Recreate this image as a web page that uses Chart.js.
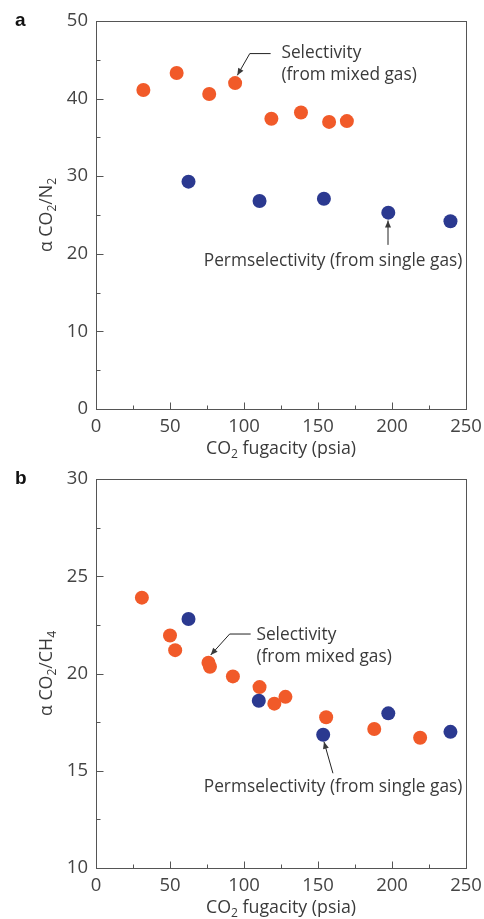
<!DOCTYPE html>
<html>
<head>
<meta charset="utf-8">
<script src="https://cdn.jsdelivr.net/npm/chart.js@4.4.1/dist/chart.umd.min.js"></script>
<style>
  body { margin: 0; background: #fff; }
  canvas { display: block; }
</style>
</head>
<body>
<canvas id="chartA" width="484" height="460"></canvas>
<canvas id="chartB" width="484" height="459"></canvas>
<script>
const FONT = '"Open Sans", sans-serif';
const ORANGE = '#f15a29';
const BLUE = '#2b3990';
const INK = '#3a3a3a';

// labelled ticks (the rest are unlabelled minor ticks)
const xTickLabels = [0, 50, 100, 150, 200, 250];
const yTickLabelsA = [0, 10, 20, 30, 40, 50];
const yTickLabelsB = [10, 15, 20, 25, 30];

// a: CO2/N2
const mixedFugacityA = [32, 54.5, 76.5, 94, 118.5, 138.5, 157.5, 169.5];
const mixedSelectivityA = [41.1, 43.3, 40.6, 42.0, 37.4, 38.2, 37.0, 37.1];
const singleFugacityA = [62.5, 110.5, 154, 197.5, 239.5];
const singlePermselA = [29.3, 26.8, 27.1, 25.3, 24.2];

// b: CO2/CH4
const mixedFugacityB = [31, 50, 53.5, 76, 77, 92.5, 110.5, 120.5, 128, 155.5, 188, 219];
const mixedSelectivityB = [23.9, 21.95, 21.2, 20.55, 20.35, 19.85, 19.3, 18.45, 18.8, 17.75, 17.15, 16.7];
const singleFugacityB = [62.5, 110, 153.5, 197.5, 239.5];
const singlePermselB = [22.8, 18.6, 16.85, 17.95, 17.0];

function points(xs, ys) {
  return xs.map((x, i) => ({ x, y: ys[i] }));
}

// text with subscripts: parts = [[text, isSub], ...]
function richWidth(ctx, parts, size) {
  let w = 0;
  for (const [t, sub] of parts) {
    ctx.font = `${sub ? size * 0.68 : size}px ${FONT}`;
    w += ctx.measureText(t).width;
  }
  return w;
}

function drawRich(ctx, parts, cx, cy, size) {
  let x = cx - richWidth(ctx, parts, size) / 2;
  ctx.textAlign = 'left';
  ctx.textBaseline = 'middle';
  for (const [t, sub] of parts) {
    ctx.font = `${sub ? size * 0.68 : size}px ${FONT}`;
    ctx.fillText(t, x, sub ? cy + size * 0.3 : cy);
    x += ctx.measureText(t).width;
  }
}

function arrowHead(ctx, x0, y0, x1, y1) {
  const ang = Math.atan2(y1 - y0, x1 - x0);
  const len = 7, half = 3;
  ctx.beginPath();
  ctx.moveTo(x1, y1);
  ctx.lineTo(x1 - len * Math.cos(ang) + half * Math.sin(ang), y1 - len * Math.sin(ang) - half * Math.cos(ang));
  ctx.lineTo(x1 - len * Math.cos(ang) - half * Math.sin(ang), y1 - len * Math.sin(ang) + half * Math.cos(ang));
  ctx.closePath();
  ctx.fill();
}

// frame, inward ticks, axis titles, panel letter and callouts
function decor(cfg) {
  return {
    id: 'decor',
    afterDraw(chart) {
      const { ctx, chartArea: a, scales: { x, y } } = chart;
      ctx.save();
      ctx.strokeStyle = '#555';
      ctx.lineWidth = 1;
      const L = Math.round(a.left) + 0.5, R = Math.round(a.right) + 0.5;
      const T = Math.round(a.top) + 0.5, B = Math.round(a.bottom) + 0.5;
      ctx.strokeRect(L, T, R - L, B - T);

      ctx.beginPath();
      x.ticks.forEach(t => {
        const px = Math.round(x.getPixelForValue(t.value)) + 0.5;
        const len = xTickLabels.includes(t.value) ? 7 : 4;
        ctx.moveTo(px, B);
        ctx.lineTo(px, B - len);
      });
      y.ticks.forEach(t => {
        const py = Math.round(y.getPixelForValue(t.value)) + 0.5;
        const len = cfg.yLabels.includes(t.value) ? 7 : 4;
        ctx.moveTo(L, py);
        ctx.lineTo(L + len, py);
      });
      ctx.stroke();

      ctx.fillStyle = INK;
      // x title
      drawRich(ctx, [['CO', false], ['2', true], [' fugacity (psia)', false]],
        (a.left + a.right) / 2, a.bottom + 40, 17.8);
      // y title
      ctx.save();
      ctx.translate(47, (a.top + a.bottom) / 2);
      ctx.rotate(-Math.PI / 2);
      drawRich(ctx, cfg.yTitle, 0, 0, 17.8);
      ctx.restore();

      // panel letter
      ctx.font = 'bold 19px "Liberation Sans", Arial, sans-serif';
      ctx.textAlign = 'left';
      ctx.textBaseline = 'alphabetic';
      ctx.fillStyle = '#111';
      ctx.fillText(cfg.letter, 15, a.top + 5);

      // callouts
      ctx.fillStyle = INK;
      ctx.strokeStyle = '#222';
      ctx.font = `17.3px ${FONT}`;
      cfg.notes.forEach(n => {
        const tx = x.getPixelForValue(n.at[0]);
        const ty = y.getPixelForValue(n.at[1]);
        ctx.textAlign = 'left';
        ctx.textBaseline = 'middle';
        n.lines.forEach((line, i) => ctx.fillText(line, tx, ty + i * 22));
        const pts = n.arrow.map(p => [x.getPixelForValue(p[0]), y.getPixelForValue(p[1])]);
        ctx.beginPath();
        ctx.moveTo(pts[0][0], pts[0][1]);
        pts.slice(1).forEach(p => ctx.lineTo(p[0], p[1]));
        ctx.stroke();
        const k = pts.length - 1;
        arrowHead(ctx, pts[k - 1][0], pts[k - 1][1], pts[k][0], pts[k][1]);
      });
      ctx.restore();
    }
  };
}

function makePanel(id, cfg) {
  new Chart(document.getElementById(id), {
    type: 'scatter',
    data: {
      datasets: [
        {
          label: 'Permselectivity (from single gas)',
          data: points(cfg.singleX, cfg.singleY),
          backgroundColor: BLUE,
          pointRadius: 7,
          pointBorderWidth: 0
        },
        {
          label: 'Selectivity (from mixed gas)',
          data: points(cfg.mixedX, cfg.mixedY),
          backgroundColor: ORANGE,
          pointRadius: 7,
          pointBorderWidth: 0
        }
      ]
    },
    options: {
      responsive: false,
      animation: false,
      events: [],
      layout: { padding: { top: cfg.top, right: 18, left: 0, bottom: 0 } },
      plugins: {
        legend: { display: false },
        tooltip: { enabled: false }
      },
      scales: {
        x: {
          type: 'linear',
          min: 0,
          max: 250,
          afterFit: s => { s.height = 51; s.paddingLeft = 0; s.paddingRight = 0; },
          grid: { display: false, drawTicks: false },
          border: { display: false },
          ticks: {
            stepSize: 25,
            autoSkip: false,
            maxRotation: 0,
            padding: 7,
            color: '#444',
            font: { family: FONT, size: 18.5 },
            callback: v => xTickLabels.includes(v) ? v : ''
          }
        },
        y: {
          type: 'linear',
          min: cfg.yMin,
          max: cfg.yMax,
          afterFit: s => { s.width = 96; s.paddingTop = 0; s.paddingBottom = 0; },
          grid: { display: false, drawTicks: false },
          border: { display: false },
          ticks: {
            stepSize: cfg.yStep,
            autoSkip: false,
            padding: 8,
            color: '#444',
            font: { family: FONT, size: 18.5 },
            callback: v => cfg.yLabels.includes(v) ? v : ''
          }
        }
      }
    },
    plugins: [decor(cfg)]
  });
}

makePanel('chartA', {
  top: 21,
  letter: 'a',
  yMin: 0, yMax: 50, yStep: 5,
  yLabels: yTickLabelsA,
  yTitle: [['\u03b1 CO', false], ['2', true], ['/N', false], ['2', true]],
  mixedX: mixedFugacityA, mixedY: mixedSelectivityA,
  singleX: singleFugacityA, singleY: singlePermselA,
  notes: [
    { lines: ['Selectivity', '(from mixed gas)'], at: [125.3, 45.85],
      arrow: [[118, 45.8], [103.9, 45.8], [95.5, 43.0]] },
    { lines: ['Permselectivity (from single gas)'], at: [72.8, 19.1],
      arrow: [[197.3, 21.15], [197.3, 24.3]] }
  ]
});

makePanel('chartB', {
  top: 19,
  letter: 'b',
  yMin: 10, yMax: 30, yStep: 2.5,
  yLabels: yTickLabelsB,
  yTitle: [['\u03b1 CO', false], ['2', true], ['/CH', false], ['4', true]],
  mixedX: mixedFugacityB, mixedY: mixedSelectivityB,
  singleX: singleFugacityB, singleY: singlePermselB,
  notes: [
    { lines: ['Selectivity', '(from mixed gas)'], at: [108.4, 21.98],
      arrow: [[104.5, 22.03], [90.3, 22.03], [77.5, 20.95]] },
    { lines: ['Permselectivity (from single gas)'], at: [72.8, 14.18],
      arrow: [[160.1, 14.87], [154.05, 16.49]] }
  ]
});
</script>
</body>
</html>
